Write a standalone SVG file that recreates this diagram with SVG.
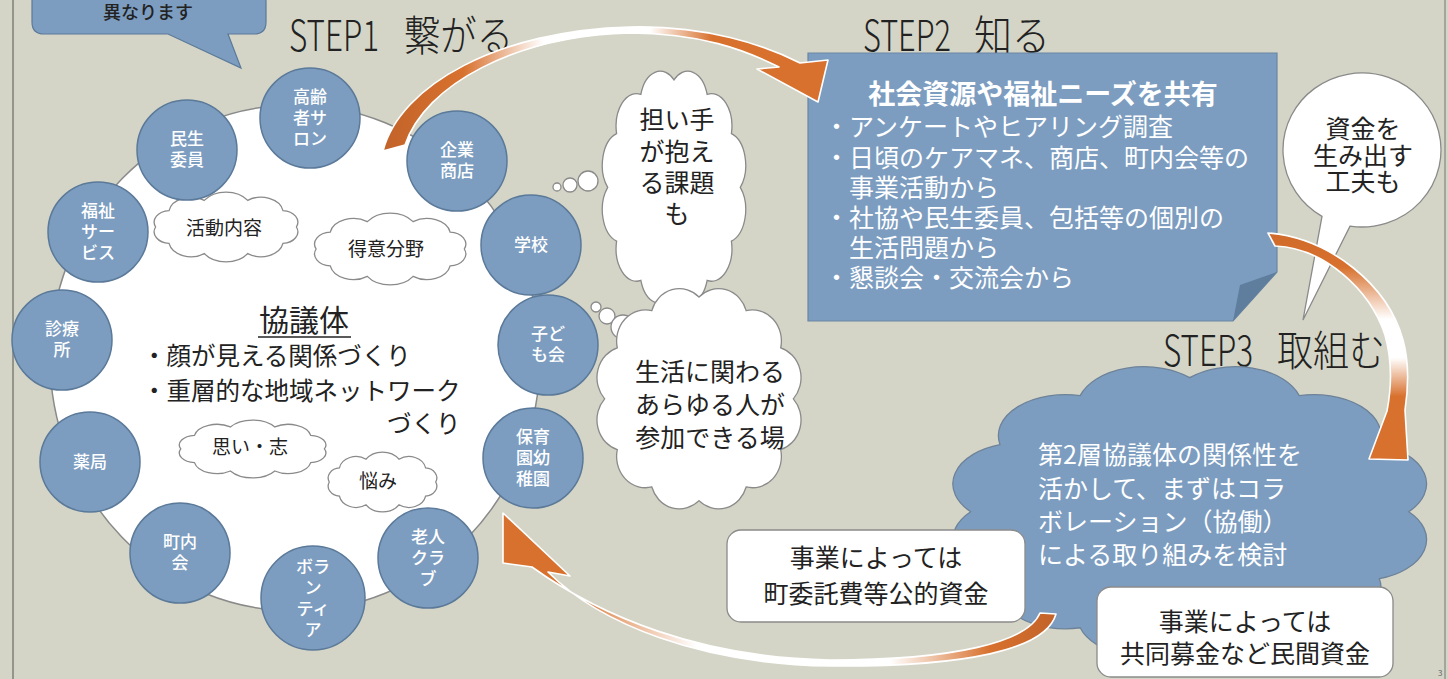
<svg xmlns="http://www.w3.org/2000/svg" xmlns:xlink="http://www.w3.org/1999/xlink" width="1448" height="679" viewBox="0 0 1448 679">
<style>
text{font-family:"Noto Sans CJK JP","Noto Sans CJK SC",sans-serif;}
.ttl{font-size:42px;fill:#222;font-weight:300;}
.node{fill:#7c9dc0;stroke:#5b7999;stroke-width:1.5;}
.nl{font-size:17px;fill:#fff;font-weight:500;text-anchor:middle;}
.cloudw{fill:#fff;stroke:#8a8a8a;stroke-width:1.3;}
.cloudb{fill:#7c9dc0;stroke:#6d8299;stroke-width:1.3;}
.wt{font-size:19px;fill:#222;text-anchor:middle;}
.big{font-size:25px;fill:#222;text-anchor:middle;}
.bx{font-size:25px;fill:#fff;}
.arrow{stroke:#fff;stroke-width:1.6;stroke-linejoin:round;}
</style>
<defs>
<path id="cw" vector-effect="non-scaling-stroke" d="M188,60 A20,20 0 0 1 171.2,88.2 A28,28 0 0 1 127.2,105.6 A33,33 0 0 1 72.8,105.6 A28,28 0 0 1 28.8,88.2 A20,20 0 0 1 12,60 A20,20 0 0 1 28.8,31.8 A28,28 0 0 1 72.8,14.4 A33,33 0 0 1 127.2,14.4 A28,28 0 0 1 171.2,31.8 A20,20 0 0 1 188,60 Z"/>
<path id="cr" vector-effect="non-scaling-stroke" d="M185,100 A26,26 0 0 1 173.6,142.5 A26,26 0 0 1 142.5,173.6 A26,26 0 0 1 100,185 A26,26 0 0 1 57.5,173.6 A26,26 0 0 1 26.4,142.5 A26,26 0 0 1 15,100 A26,26 0 0 1 26.4,57.5 A26,26 0 0 1 57.5,26.4 A26,26 0 0 1 100,15 A26,26 0 0 1 142.5,26.4 A26,26 0 0 1 173.6,57.5 A26,26 0 0 1 185,100 Z"/>
<linearGradient id="g1" gradientUnits="userSpaceOnUse" x1="383" y1="0" x2="828" y2="0">
<stop offset="0" stop-color="#c2632a"/><stop offset="0.18" stop-color="#d8712e"/><stop offset="0.36" stop-color="#fff"/><stop offset="0.6" stop-color="#fff"/><stop offset="0.74" stop-color="#d8712e"/><stop offset="1" stop-color="#d8712e"/>
</linearGradient>
<linearGradient id="g3" gradientUnits="userSpaceOnUse" x1="0" y1="233" x2="0" y2="460">
<stop offset="0" stop-color="#d06a2a"/><stop offset="0.15" stop-color="#d8712e"/><stop offset="0.38" stop-color="#fff"/><stop offset="0.55" stop-color="#fff"/><stop offset="0.72" stop-color="#d8712e"/><stop offset="1" stop-color="#d8712e"/>
</linearGradient>
<linearGradient id="g2" gradientUnits="userSpaceOnUse" x1="503" y1="0" x2="1056" y2="0">
<stop offset="0" stop-color="#d8712e"/><stop offset="0.12" stop-color="#d8712e"/><stop offset="0.35" stop-color="#fff"/><stop offset="0.7" stop-color="#fff"/><stop offset="0.88" stop-color="#d8712e"/><stop offset="1" stop-color="#c2632a"/>
</linearGradient>
</defs>

<rect x="0" y="0" width="1448" height="679" fill="#d4d5c6"/>
<line x1="13" y1="0" x2="13" y2="679" stroke="#555" stroke-width="1"/>
<line x1="1445" y1="0" x2="1445" y2="679" stroke="#777" stroke-width="1"/>

<g id="callout-top">
<path d="M44,-10 H254 Q266,-10 266,2 V22 Q266,34 254,34 H228 L241,68 L168,34 H44 Q32,34 32,22 V2 Q32,-10 44,-10 Z" fill="#7c9dc0" stroke="#5b7999" stroke-width="1.2"/>
<text x="148" y="19" font-size="18" fill="#222" text-anchor="middle" font-weight="500">異なります</text>
</g>

<g id="titles">
<text class="ttl" x="289" y="51" textLength="90" lengthAdjust="spacingAndGlyphs">STEP1</text>
<text class="ttl" x="404" y="51" textLength="109" lengthAdjust="spacingAndGlyphs">繋がる</text>
<text class="ttl" x="863" y="51" textLength="88" lengthAdjust="spacingAndGlyphs">STEP2</text>
<text class="ttl" x="974" y="51" textLength="76" lengthAdjust="spacingAndGlyphs">知る</text>
<text class="ttl" x="1163" y="366" textLength="90" lengthAdjust="spacingAndGlyphs">STEP3</text>
<text class="ttl" x="1277" y="366" textLength="108" lengthAdjust="spacingAndGlyphs">取組む</text>
</g>

<g id="council">
<ellipse cx="295" cy="358" rx="245" ry="253" fill="#fff" stroke="#8a8a8a" stroke-width="1.5"/>
<text x="304" y="331" font-size="30" fill="#222" text-anchor="middle">協議体</text>
<line x1="258" y1="337" x2="351" y2="337" stroke="#222" stroke-width="1.5"/>
<text font-size="24.5" fill="#222"><tspan x="142" y="365">・顔が見える関係づくり</tspan><tspan x="142" y="400">・重層的な地域ネットワーク</tspan><tspan x="387" y="433">づくり</tspan></text>
</g>

<g id="cloud-katsudo"><use xlink:href="#cw" class="cloudw" transform="translate(146,192) scale(0.8,0.583)"/><text class="wt" x="224" y="235">活動内容</text></g>
<g id="cloud-tokui"><use xlink:href="#cw" class="cloudw" transform="translate(306,213) scale(0.842,0.6)"/><text class="wt" x="386" y="256">得意分野</text></g>
<g id="cloud-omoi"><use xlink:href="#cw" class="cloudw" transform="translate(171,420) scale(0.816,0.483)"/><text class="wt" x="250" y="454">思い・志</text></g>
<g id="cloud-nayami"><use xlink:href="#cw" class="cloudw" transform="translate(322,452) scale(0.605,0.5)"/><text class="wt" x="378" y="488">悩み</text></g>

<g id="n-koureisha"><circle class="node" cx="310" cy="118" r="50"/><text class="nl"><tspan x="310" y="103">高齢</tspan><tspan x="310" y="124">者サ</tspan><tspan x="310" y="145">ロン</tspan></text></g>
<g id="n-minsei"><circle class="node" cx="187" cy="150" r="50"/><text class="nl"><tspan x="187" y="145">民生</tspan><tspan x="187" y="166">委員</tspan></text></g>
<g id="n-kigyou"><circle class="node" cx="457" cy="161" r="50"/><text class="nl"><tspan x="457" y="156">企業</tspan><tspan x="457" y="177">商店</tspan></text></g>
<g id="n-fukushi"><circle class="node" cx="98" cy="232" r="50"/><text class="nl"><tspan x="98" y="217">福祉</tspan><tspan x="98" y="238">サー</tspan><tspan x="98" y="259">ビス</tspan></text></g>
<g id="n-gakkou"><circle class="node" cx="531" cy="245" r="50"/><text class="nl" x="531" y="251">学校</text></g>
<g id="n-shinryo"><circle class="node" cx="62" cy="340" r="50"/><text class="nl"><tspan x="62" y="335">診療</tspan><tspan x="62" y="356">所</tspan></text></g>
<g id="n-kodomo"><circle class="node" cx="548" cy="345" r="50"/><text class="nl"><tspan x="548" y="340">子ど</tspan><tspan x="548" y="361">も会</tspan></text></g>
<g id="n-yakkyoku"><circle class="node" cx="90" cy="462" r="50"/><text class="nl" x="90" y="468">薬局</text></g>
<g id="n-hoiku"><circle class="node" cx="533" cy="458" r="50"/><text class="nl"><tspan x="533" y="443">保育</tspan><tspan x="533" y="464">園幼</tspan><tspan x="533" y="485">稚園</tspan></text></g>
<g id="n-chounai"><circle class="node" cx="180" cy="553" r="50"/><text class="nl"><tspan x="180" y="548">町内</tspan><tspan x="180" y="569">会</tspan></text></g>
<g id="n-volunteer"><circle class="node" cx="313" cy="598" r="52"/><text class="nl"><tspan x="313" y="573">ボラ</tspan><tspan x="313" y="594">ン</tspan><tspan x="313" y="615">ティ</tspan><tspan x="313" y="636">ア</tspan></text></g>
<g id="n-roujin"><circle class="node" cx="428" cy="558" r="50"/><text class="nl"><tspan x="428" y="543">老人</tspan><tspan x="428" y="564">クラ</tspan><tspan x="428" y="585">ブ</tspan></text></g>

<g id="thought-ninaite">
<circle cx="557" cy="187" r="4" class="cloudw"/>
<circle cx="570" cy="185" r="7" class="cloudw"/>
<circle cx="588" cy="181" r="10" class="cloudw"/>
<use xlink:href="#cr" class="cloudw" transform="translate(596,61) scale(0.78,1.264)"/>
<text class="big" font-size="26"><tspan x="677" y="129">担い手</tspan><tspan x="677" y="161">が抱え</tspan><tspan x="677" y="192">る課題</tspan><tspan x="677" y="223">も</tspan></text>
</g>

<g id="thought-seikatsu">
<circle cx="596" cy="307" r="5" class="cloudw"/>
<circle cx="607" cy="316" r="8" class="cloudw"/>
<circle cx="623" cy="327" r="12" class="cloudw"/>
<use xlink:href="#cr" class="cloudw" transform="translate(588,279) scale(1.11,1.198)"/>
<text class="big"><tspan x="710" y="381">生活に関わる</tspan><tspan x="710" y="414">あらゆる人が</tspan><tspan x="710" y="447">参加できる場</tspan></text>
</g>

<g id="step2-box">
<path d="M808,53 H1277 V272 L1233,321 H808 Z" fill="#7c9dc0" stroke="#6a86a3" stroke-width="1.2"/>
<path d="M1233,321 L1240,285 L1277,272 Z" fill="#5f7e9d"/>
<text fill="#fff"><tspan x="1043" y="104" font-size="27" font-weight="bold" text-anchor="middle">社会資源や福祉ニーズを共有</tspan><tspan class="bx" x="824" y="136">・アンケートやヒアリング調査</tspan><tspan class="bx" x="824" y="167">・日頃のケアマネ、商店、町内会等の</tspan><tspan class="bx" x="849" y="197">事業活動から</tspan><tspan class="bx" x="824" y="227">・社協や民生委員、包括等の個別の</tspan><tspan class="bx" x="849" y="257">生活問題から</tspan><tspan class="bx" x="824" y="287">・懇談会・交流会から</tspan></text>
</g>

<g id="speech-shikin">
<path d="M1322,216.4 A79,77 0 1 1 1350,226.1 L1303,320 Z" fill="#fff" stroke="#8a8a8a" stroke-width="1.3"/>
<text class="big" font-size="22"><tspan x="1363" y="138">資金を</tspan><tspan x="1363" y="165">生み出す</tspan><tspan x="1363" y="191">工夫も</tspan></text>
</g>

<g id="step3-cloud">
<use xlink:href="#cr" class="cloudb" transform="translate(932,354) scale(2.577,1.577)"/>
<text class="bx"><tspan x="1038" y="464">第2層協議体の関係性を</tspan><tspan x="1038" y="498">活かして、まずはコラ</tspan><tspan x="1038" y="531">ボレーション（協働）</tspan><tspan x="1038" y="564">による取り組みを検討</tspan></text>
</g>

<g id="box-public">
<rect x="727" y="530" width="298" height="92" rx="14" fill="#fff" stroke="#8a8a8a" stroke-width="1.3"/>
<text class="big"><tspan x="876" y="567">事業によっては</tspan><tspan x="876" y="603">町委託費等公的資金</tspan></text>
</g>

<g id="box-private">
<rect x="1097" y="587" width="296" height="90" rx="14" fill="#fff" stroke="#8a8a8a" stroke-width="1.3"/>
<text class="big" font-size="26"><tspan x="1245" y="631">事業によっては</tspan><tspan x="1245" y="663">共同募金など民間資金</tspan></text>
</g>

<g id="connectors">
<path class="arrow" fill="url(#g1)" d="M383,151 C400,85 500,30 630,27 C705,25 765,45 800,63 L828,60 L818,102 L757,69 L779,67 C745,50 700,33 630,33 C515,36 425,85 405,145 Z"/>
<path class="arrow" fill="url(#g3)" d="M1268,233 C1330,238 1388,285 1403,340 C1410,365 1408,390 1405,410 L1408,460 L1369,459 L1387,411 C1392,385 1392,360 1385,335 C1370,290 1325,248 1275,246 Z"/>
<path class="arrow" fill="url(#g2)" d="M1040,613 L1056,614 C1046,650 965,667 830,666 C700,664 600,624 548,572 L570,576 L503,513 L503,563 L532,567 C600,616 700,658 830,660 C955,660 1028,642 1040,613 Z"/>
</g>

<text x="1438" y="676" font-size="8" fill="#666">3</text>
</svg>
